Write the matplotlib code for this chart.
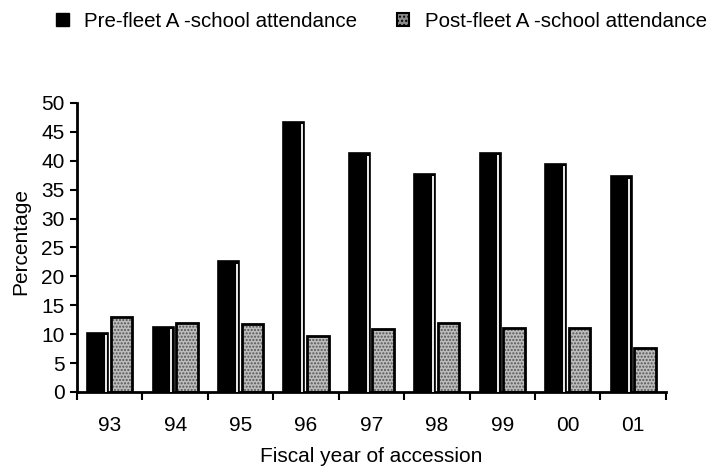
import numpy as np
import matplotlib
matplotlib.use("Agg")
import matplotlib.pyplot as plt
import matplotlib.patches as mpatches

plt.rcParams['font.family'] = ['Liberation Sans', 'DejaVu Sans']

years = ['93', '94', '95', '96', '97', '98', '99', '00', '01']
pre_fleet = [10.2, 11.2, 22.6, 46.7, 41.3, 37.7, 41.4, 39.5, 37.3]
post_fleet = [13.0, 12.0, 11.7, 9.7, 10.8, 12.0, 11.0, 11.0, 7.6]

x = np.arange(len(years))

fig = plt.figure(figsize=(7.23, 4.66), dpi=100)
ax = fig.add_axes([0.1065, 0.159, 0.8145, 0.62])

# pre-fleet: solid black bars with a thin white highlight near the right edge
pre_bars = ax.bar(x - 0.185, pre_fleet, width=0.32, color='black',
                  edgecolor='black', linewidth=1.2, zorder=2)
for r in pre_bars:
    xr = r.get_x() + r.get_width() - 0.035
    ax.plot([xr, xr], [0, r.get_height() - 0.4], color='white', lw=1.3,
            zorder=3, solid_capstyle='butt')

# post-fleet: stippled grey bars with black outline
ax.bar(x + 0.18, post_fleet, width=0.33, color='#bcbcbc', edgecolor='#555555',
       hatch='.....', linewidth=0, zorder=2)
ax.bar(x + 0.18, post_fleet, width=0.33, facecolor='none', edgecolor='black',
       linewidth=2, zorder=3)

ax.set_xlim(-0.5, len(years) - 0.5)
ax.set_ylim(0, 50)
ax.set_yticks(np.arange(0, 51, 5))
ax.set_xticks(x)
ax.set_xticklabels(years)
ax.set_xticks(np.arange(-0.5, len(years), 1), minor=True)

ax.tick_params(axis='y', labelsize=15, length=5, width=1.5, pad=4)
ax.tick_params(axis='x', which='major', labelsize=15, length=0, pad=17)
ax.tick_params(axis='x', which='minor', length=6, width=1.5, direction='out')

for s in ['top', 'right']:
    ax.spines[s].set_visible(False)
for s in ['left', 'bottom']:
    ax.spines[s].set_linewidth(2)

ax.set_ylabel('Percentage', fontsize=15)
ax.yaxis.set_label_coords(-0.08, 0.52)
ax.set_xlabel('Fiscal year of accession', fontsize=15, labelpad=9)

handles = [
    mpatches.Patch(facecolor='black', edgecolor='black',
                   label='Pre-fleet A -school attendance'),
    mpatches.Patch(facecolor='#8a8a8a', edgecolor='black', hatch='....',
                   linewidth=1.5, label='Post-fleet A -school attendance'),
]
fig.legend(handles=handles, loc='upper left', bbox_to_anchor=(0.058, 1.005),
           ncol=2, frameon=False, fontsize=14.8, handlelength=0.62,
           handleheight=0.62, handletextpad=0.75, columnspacing=1.9,
           borderaxespad=0.3)

fig.savefig('out.png', dpi=100)
